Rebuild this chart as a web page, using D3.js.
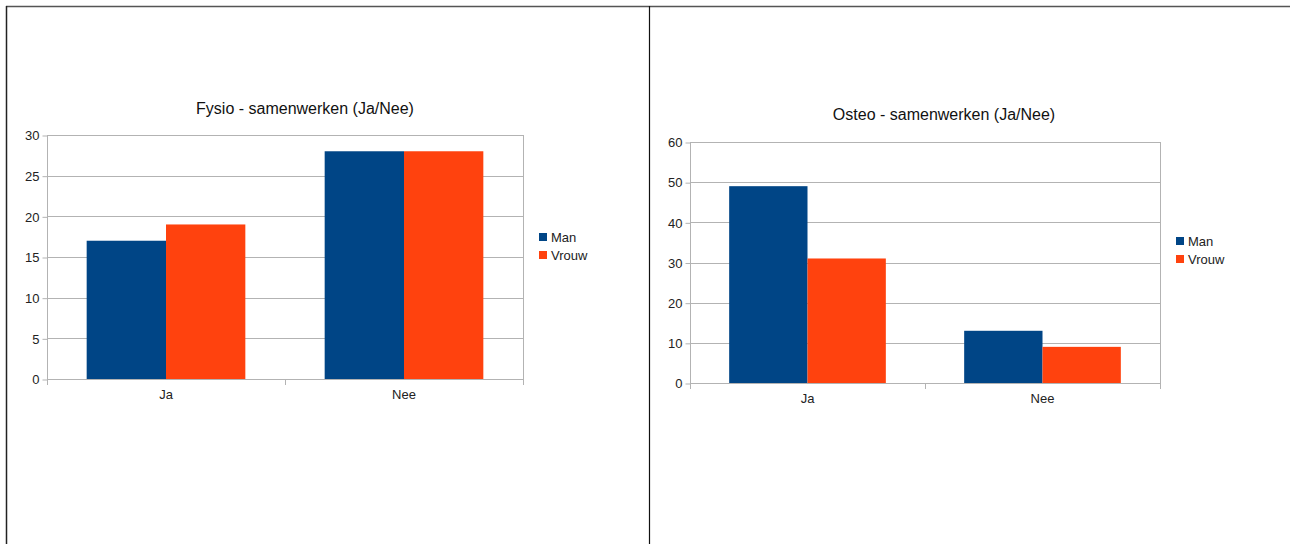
<!DOCTYPE html>
<html>
<head>
<meta charset="utf-8">
<script src="https://cdn.jsdelivr.net/npm/d3@7"></script>
<style>
  html, body { margin: 0; padding: 0; background: #fff; }
  svg { display: block; font-family: "Liberation Sans", Arial, sans-serif; }
</style>
</head>
<body>
<svg id="chart" width="1290" height="544"></svg>
<script>
// Answer categories and series shared by both charts
const categories = ["Ja", "Nee"];
const seriesNames = ["Man", "Vrouw"];
const seriesColors = ["#004586", "#ff420e"];

// Fysio: counts per category for Man / Vrouw
const fysioMan = [17, 28];
const fysioVrouw = [19, 28];
const fysioTicks = [0, 5, 10, 15, 20, 25, 30];

// Osteo: counts per category for Man / Vrouw
const osteoMan = [49, 13];
const osteoVrouw = [31, 9];
const osteoTicks = [0, 10, 20, 30, 40, 50, 60];

const svg = d3.select("#chart");

// Frame lines around the two panels
svg.append("line").attr("x1", 6).attr("x2", 1290).attr("y1", 6.5).attr("y2", 6.5)
  .attr("stroke", "#555").attr("stroke-width", 1.5);
svg.append("line").attr("x1", 6.5).attr("x2", 6.5).attr("y1", 6).attr("y2", 544)
  .attr("stroke", "#222").attr("stroke-width", 1.5);
svg.append("line").attr("x1", 649.5).attr("x2", 649.5).attr("y1", 6).attr("y2", 544)
  .attr("stroke", "#111").attr("stroke-width", 1.2);

function drawChart(cfg) {
  const g = svg.append("g");
  const x = d3.scaleBand().domain(categories).range([cfg.left, cfg.right]).paddingInner(0).paddingOuter(0);
  const yMax = cfg.ticks[cfg.ticks.length - 1];
  const y = d3.scaleLinear().domain([0, yMax]).range([cfg.bottom, cfg.top]);
  // Each group uses the middle two thirds of its category slot
  const inner = d3.scaleBand().domain(seriesNames).range([0, x.bandwidth()]).paddingOuter(0.5).paddingInner(0);

  // Horizontal gridlines
  g.append("g").selectAll("line").data(cfg.ticks).join("line")
    .attr("x1", cfg.left).attr("x2", cfg.right)
    .attr("y1", d => Math.round(y(d)) + 0.5).attr("y2", d => Math.round(y(d)) + 0.5)
    .attr("stroke", "#b3b3b3").attr("stroke-width", 1);

  // Bars
  const rows = categories.map((c, i) => ({ cat: c, vals: [cfg.man[i], cfg.vrouw[i]] }));
  g.append("g").selectAll("g").data(rows).join("g")
    .attr("transform", d => `translate(${x(d.cat)},0)`)
    .selectAll("rect").data(d => d.vals.map((v, j) => ({ name: seriesNames[j], v, j })))
    .join("rect")
    .attr("x", d => inner(d.name))
    .attr("width", inner.bandwidth())
    .attr("y", d => y(d.v))
    .attr("height", d => y(0) - y(d.v))
    .attr("fill", d => seriesColors[d.j]);

  // Plot area side lines
  [cfg.left, cfg.right].forEach(xx => {
    g.append("line").attr("x1", xx + 0.5).attr("x2", xx + 0.5)
      .attr("y1", cfg.top).attr("y2", cfg.bottom)
      .attr("stroke", "#b3b3b3");
  });

  // Y axis
  const yAxis = d3.axisLeft(y).tickValues(cfg.ticks).tickSize(5).tickPadding(3);
  const ya = g.append("g").attr("transform", `translate(${cfg.left + 0.5},0.5)`).call(yAxis);
  ya.select(".domain").remove();
  ya.selectAll(".tick line").attr("stroke", "#b3b3b3");
  ya.selectAll(".tick text").attr("fill", "#222").attr("font-size", 13)
    .attr("font-family", "Liberation Sans, Arial, sans-serif");

  // X axis: ticks at category boundaries, labels centered under groups
  g.append("line").attr("x1", cfg.left).attr("x2", cfg.right + 1)
    .attr("y1", Math.round(cfg.bottom) + 0.5).attr("y2", Math.round(cfg.bottom) + 0.5)
    .attr("stroke", "#b3b3b3");
  const bounds = [cfg.left, x(categories[1]), cfg.right];
  g.append("g").selectAll("line").data(bounds).join("line")
    .attr("x1", d => Math.round(d) + 0.5).attr("x2", d => Math.round(d) + 0.5)
    .attr("y1", cfg.bottom).attr("y2", cfg.bottom + 6)
    .attr("stroke", "#b3b3b3");
  g.append("g").selectAll("text").data(categories).join("text")
    .attr("x", d => x(d) + x.bandwidth() / 2)
    .attr("y", cfg.bottom + 20)
    .attr("text-anchor", "middle")
    .attr("font-size", 13).attr("fill", "#222")
    .text(d => d);

  // Title
  g.append("text").attr("x", cfg.titleX).attr("y", cfg.titleY)
    .attr("text-anchor", "middle").attr("font-size", 16).attr("fill", "#111")
    .text(cfg.title);

  // Legend
  const lg = g.append("g").attr("transform", `translate(${cfg.legendX},${cfg.legendY})`);
  seriesNames.forEach((n, i) => {
    lg.append("rect").attr("x", 0).attr("y", i * 18 - 4).attr("width", 8).attr("height", 8)
      .attr("fill", seriesColors[i]);
    lg.append("text").attr("x", 12).attr("y", i * 18 + 4.5)
      .attr("font-size", 13).attr("fill", "#222").text(n);
  });
}

drawChart({
  title: "Fysio - samenwerken (Ja/Nee)", titleX: 305, titleY: 114,
  left: 47, right: 523, top: 135, bottom: 379,
  ticks: fysioTicks, man: fysioMan, vrouw: fysioVrouw,
  legendX: 539, legendY: 237
});

drawChart({
  title: "Osteo - samenwerken (Ja/Nee)", titleX: 944, titleY: 120,
  left: 690, right: 1160, top: 142, bottom: 383,
  ticks: osteoTicks, man: osteoMan, vrouw: osteoVrouw,
  legendX: 1176, legendY: 241
});
</script>
</body>
</html>
